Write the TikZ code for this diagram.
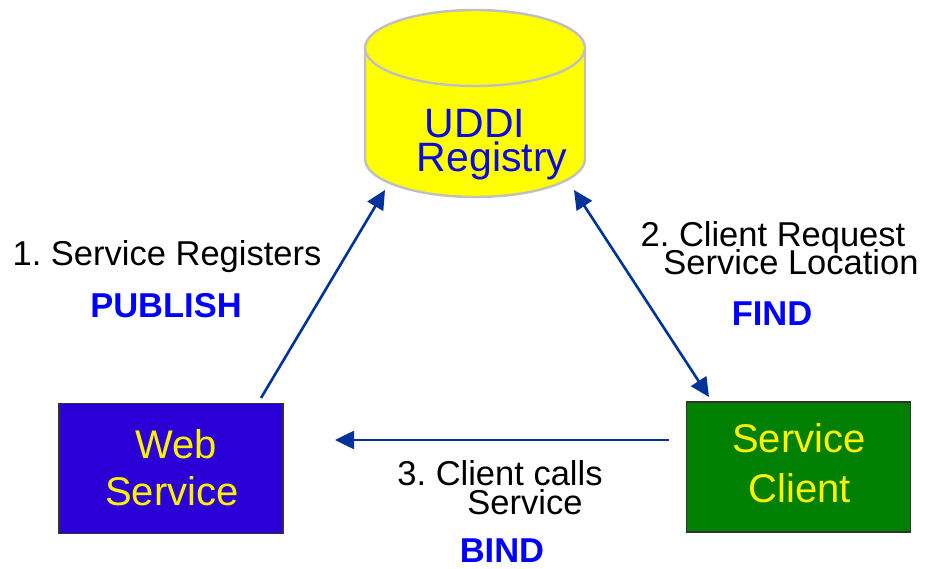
\documentclass[tikz,border=0pt]{standalone}
\usepackage{fontspec}
\setmainfont{Liberation Sans}
\usetikzlibrary{arrows.meta}
\frenchspacing

\definecolor{flow}{RGB}{0,51,153}
\definecolor{labelblue}{RGB}{0,0,255}
\definecolor{regtext}{RGB}{10,10,220}
\definecolor{wsfill}{RGB}{42,0,214}
\definecolor{scfill}{RGB}{0,128,0}
\definecolor{diskfill}{RGB}{255,255,0}
\definecolor{diskline}{RGB}{192,192,192}
\definecolor{boxline}{RGB}{50,50,50}

\tikzset{
  party/.style={draw=boxline, line width=1.4pt, minimum width=224pt, minimum height=130pt, inner sep=0pt},
  boxtext/.style={text=yellow, font=\fontsize{40}{40}\selectfont, inner sep=0pt, anchor=base},
  regfont/.style={text=regtext, font=\fontsize{41}{41}\selectfont, inner sep=0pt, anchor=base},
  steptext/.style={text=black, font=\fontsize{34.5}{34.5}\selectfont, inner sep=0pt, anchor=base},
  verb/.style={text=labelblue, font=\bfseries\fontsize{34.5}{34.5}\selectfont, inner sep=0pt, anchor=base},
  flowline/.style={draw=flow, line width=2.6pt, -{Triangle[length=19pt,width=18pt]}},
  twoway/.style={draw=flow, line width=2.6pt, {Triangle[length=19pt,width=18pt]}-{Triangle[length=19pt,width=18pt]}}
}

\begin{document}
\begin{tikzpicture}[x=1pt, y=-1pt]
  \useasboundingbox (0,0) rectangle (927,569);

  % registry drawn as a cylinder (y axis points down)
  \fill[diskfill] (365,48) -- (365,159) arc[start angle=180, end angle=0, x radius=110, y radius=38]
       -- (585,48) arc[start angle=0, end angle=-180, x radius=110, y radius=38] -- cycle;
  \draw[diskline, line width=2.4pt] (365,48) -- (365,159)
       arc[start angle=180, end angle=0, x radius=110, y radius=38] -- (585,48);
  \draw[diskline, line width=2.4pt] (475,48) ellipse[x radius=110, y radius=38];
  \node[regfont] (uddi) at (475,138) {UDDI};
  \node[regfont] (registry) at (492,172) {Registry};

  % the two parties
  \node[party, fill=wsfill] (ws) at (171,468.5) {};
  \node[boxtext] (wsa) at (176,458) {Web};
  \node[boxtext] (wsb) at (172,505) {Service};

  \node[party, fill=scfill] (sc) at (798.5,467) {};
  \node[boxtext] (sca) at (799,453) {Service};
  \node[boxtext] (scb) at (800,502) {Client};

  % connector end points
  \coordinate (regL) at (385,190);
  \coordinate (regR) at (574,190);
  \coordinate (wsTop) at (261,398);
  \coordinate (scTop) at (709,397);
  \coordinate (scLeft) at (669,440);
  \coordinate (wsRight) at (335,440);

  \draw[flowline] (wsTop) -- (regL);
  \draw[twoway] (regR) -- (scTop);
  \draw[flowline] (scLeft) -- (wsRight);

  % step labels
  \node[steptext] (s1) at (167,266) {1. Service Registers};
  \node[verb] (pub) at (166,318) {PUBLISH};

  \node[steptext] (s2a) at (773,247) {2. Client Request};
  \node[steptext] (s2b) at (791,275) {Service Location};
  \node[verb] (find) at (772,326) {FIND};

  \node[steptext] (s3a) at (500,485) {3. Client calls};
  \node[steptext] (s3b) at (525,514) {Service};
  \node[verb] (bind) at (502,562) {BIND};
\end{tikzpicture}
\end{document}
